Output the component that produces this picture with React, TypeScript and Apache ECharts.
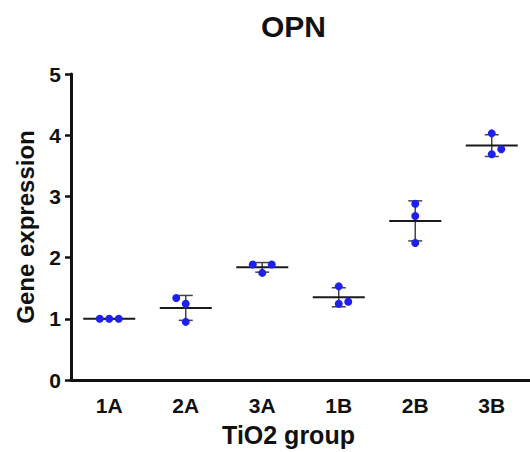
import React, { useEffect, useRef } from 'react';
import * as echarts from 'echarts';

const categories = ['1A', '2A', '3A', '1B', '2B', '3B'];
const values1A = [1.0, 1.0, 1.0];
const values2A = [1.34, 1.245, 0.95];
const values3A = [1.886, 1.75, 1.886];
const values1B = [1.53, 1.245, 1.28];
const values2B = [2.88, 2.68, 2.24];
const values3B = [4.03, 3.69, 3.77];
const groupValues = [values1A, values2A, values3A, values1B, values2B, values3B];
// horizontal slot of each dot within its group (-1 left, 0 centre, 1 right)
const dotSlots = [[-1, 0, 1], [-1, 0, 0], [-1, 0, 1], [0, 0, 1], [0, 0, 0], [0, 0, 1]];
const yTicks = [0, 1, 2, 3, 4, 5];

const FONT = 'Arial, "Liberation Sans", Helvetica, sans-serif';

function mean(a: number[]) {
  return a.reduce((s, v) => s + v, 0) / a.length;
}
function sd(a: number[]) {
  const m = mean(a);
  return Math.sqrt(a.reduce((s, v) => s + (v - m) * (v - m), 0) / (a.length - 1));
}

export default function App() {
  const ref = useRef<HTMLDivElement>(null);
  useEffect(() => {
    if (!ref.current) return;
    const chart = echarts.init(ref.current, undefined, { renderer: 'svg' });
    const data = groupValues.map((vals, i) => [i, mean(vals), sd(vals), ...vals, ...dotSlots[i]]);
    chart.setOption({
      animation: false,
      backgroundColor: '#ffffff',
      title: {
        text: 'OPN',
        left: 256,
        top: 6,
        textStyle: { fontFamily: FONT, fontWeight: 'bold', fontSize: 30, color: '#111' },
      },
      grid: { left: 71, top: 74, right: -8, bottom: 66, containLabel: false },
      xAxis: {
        type: 'category',
        data: categories,
        name: 'TiO2 group',
        nameLocation: 'middle',
        nameGap: 42,
        nameTextStyle: {
          fontFamily: FONT,
          fontWeight: 'bold',
          fontSize: 25,
          color: '#111',
          padding: [0, 24, 0, 0],
        },
        axisLine: { lineStyle: { color: '#111', width: 3 } },
        axisTick: { alignWithLabel: true, length: 6, lineStyle: { color: '#111', width: 2.5 } },
        axisLabel: { fontFamily: FONT, fontWeight: 'bold', fontSize: 21, color: '#111', margin: 15 },
        splitLine: { show: false },
      },
      yAxis: {
        type: 'value',
        min: yTicks[0],
        max: yTicks[yTicks.length - 1],
        interval: 1,
        name: 'Gene expression',
        nameLocation: 'middle',
        nameGap: 34,
        nameTextStyle: { fontFamily: FONT, fontWeight: 'bold', fontSize: 24, color: '#111' },
        axisLine: { show: true, lineStyle: { color: '#111', width: 3 } },
        axisTick: { show: true, length: 6, lineStyle: { color: '#111', width: 2.5 } },
        axisLabel: { fontFamily: FONT, fontWeight: 'bold', fontSize: 21, color: '#111', margin: 10 },
        splitLine: { show: false },
      },
      series: [
        {
          type: 'custom',
          data,
          renderItem: (params: any, api: any) => {
            const i = api.value(0);
            const m = api.value(1);
            const s = api.value(2);
            const [cx, cy] = api.coord([i, m]);
            const yTop = api.coord([i, m + s])[1];
            const yBot = api.coord([i, m - s])[1];
            const children: any[] = [
              {
                type: 'line',
                shape: { x1: cx, y1: yTop, x2: cx, y2: yBot },
                style: { stroke: '#444', lineWidth: 1.5 },
              },
              {
                type: 'line',
                shape: { x1: cx - 7, y1: yTop, x2: cx + 7, y2: yTop },
                style: { stroke: '#444', lineWidth: 1.5 },
              },
              {
                type: 'line',
                shape: { x1: cx - 7, y1: yBot, x2: cx + 7, y2: yBot },
                style: { stroke: '#444', lineWidth: 1.5 },
              },
              {
                type: 'line',
                shape: { x1: cx - 26, y1: cy, x2: cx + 26, y2: cy },
                style: { stroke: '#1a1a1a', lineWidth: 2 },
              },
            ];
            for (let k = 0; k < 3; k++) {
              const v = api.value(3 + k);
              const slot = api.value(6 + k);
              const p = api.coord([i, v]);
              children.push({
                type: 'circle',
                shape: { cx: p[0] + slot * 9.5, cy: p[1], r: 4 },
                style: { fill: '#1f1ff0' },
              });
            }
            return { type: 'group', children };
          },
        },
      ],
    });
    return () => chart.dispose();
  }, []);
  return (
    <div
      ref={ref}
      style={{ position: 'fixed', left: 0, top: 0, width: 530, height: 452, background: '#fff' }}
    />
  );
}
